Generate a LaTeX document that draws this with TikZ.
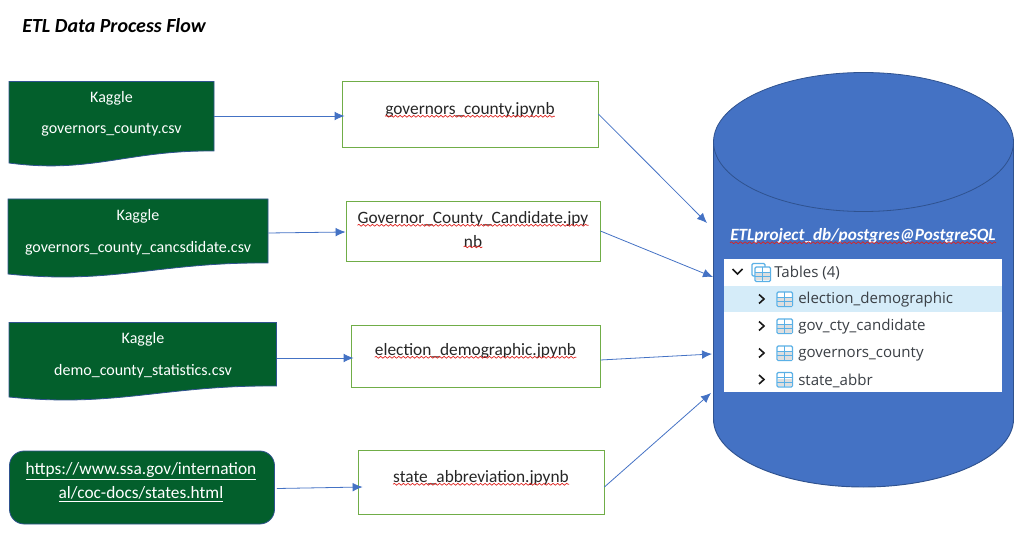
\documentclass[tikz,border=0pt]{standalone}
\usepackage{fontspec}
\setmainfont{Carlito}
\newfontfamily\robo{Open Sans}
\usetikzlibrary{calc,decorations.pathmorphing,arrows.meta}
\definecolor{dgreen}{HTML}{035F2C}
\definecolor{bblue}{HTML}{4472C4}
\definecolor{dblue}{HTML}{2F528F}
\definecolor{lgreen}{HTML}{70AD47}
\definecolor{hili}{HTML}{D5ECF9}
\definecolor{ink}{HTML}{3A3F45}
\definecolor{icon}{HTML}{5AB0E6}
\definecolor{wavy}{HTML}{E0201C}
\tikzset{
  x=0.75pt,y=-0.75pt,
  srcbox/.style={draw=none,fill=none,inner sep=0pt,text=white,font=\fontsize{12pt}{14pt}\selectfont},
  docfill/.style={fill=dgreen,draw=dblue,line width=0.6pt},
  etlbox/.style={draw=lgreen,line width=0.6pt,fill=white,inner sep=0pt},
  etltext/.style={inner sep=0pt,text=black!85,font=\fontsize{13pt}{15pt}\selectfont},
  flow/.style={draw=bblue,line width=0.6pt,-{Latex[length=7.5pt,width=6.5pt]}},
  spell/.style={draw=wavy,line width=0.5pt,decorate,decoration={snake,amplitude=0.7pt,segment length=3.4pt}},
  wordnode/.style={inner sep=0pt},
  urltext/.style={inner sep=0pt,text=white,font=\fontsize{13pt}{15pt}\selectfont},
  treetext/.style={inner sep=0pt,anchor=west,text=ink,font=\robo\fontsize{11.3pt}{13pt}\selectfont},
  chev/.style={draw=black!90,line width=1.2pt},
  tblicon/.style={draw=icon,line width=0.9pt,fill=white,rounded corners=1pt},
}
\newcommand{\docshape}[5]{% x0,x1,ytop,yright,yleft
  \path[docfill] (#1,#3) -- (#2,#3) -- (#2,#4)
    .. controls ({#2-0.42*(#2-#1)},{#4-1}) and ({#1+0.4*(#2-#1)},{#5+11}) .. (#1,#5) -- cycle;
}
\newcommand{\tbl}[2]{%
  \draw[tblicon] (#1,#2) rectangle ({#1+15.5},{#2+14.5});
  \fill[black!13] ({#1+1},{#2+6}) rectangle ({#1+14.5},{#2+13.5});
  \draw[icon,line width=0.45pt] ({#1+7.7},{#2}) -- ({#1+7.7},{#2+14.5}) ({#1},{#2+5}) -- ({#1+15.5},{#2+5}) ({#1},{#2+9.7}) -- ({#1+15.5},{#2+9.7});
}
\begin{document}
\begin{tikzpicture}
\useasboundingbox (0,0) rectangle (1024,545);
\node[anchor=west,inner sep=0pt,font=\bfseries\itshape\fontsize{15pt}{18pt}\selectfont] (title) at (22,26) {ETL Data Process Flow};

% sources
\docshape{9}{214}{81.5}{151}{163}
\node[srcbox,minimum width=205*0.75pt,minimum height=68*0.75pt] (k1) at (111.5,116) {};
\node[srcbox] (k1a) at (111.5,98) {Kaggle};
\node[srcbox] (k1b) at (111.5,130) {governors\_county.csv};

\docshape{8}{268}{199}{263}{274}
\node[srcbox,minimum width=260*0.75pt,minimum height=68*0.75pt] (k2) at (138,233) {};
\node[srcbox] (k2a) at (138,216) {Kaggle};
\node[srcbox] (k2b) at (138,248) {governors\_county\_cancsdidate.csv};

\docshape{9}{276.5}{322.5}{386}{397}
\node[srcbox,minimum width=267*0.75pt,minimum height=70*0.75pt] (k3) at (142.5,358) {};
\node[srcbox] (k3a) at (143,339) {Kaggle};
\node[srcbox] (k3b) at (143,371) {demo\_county\_statistics.csv};

\node[fill=dgreen,draw=dblue,line width=0.6pt,rounded corners=11pt,minimum width=265*0.75pt,minimum height=73*0.75pt,inner sep=0pt] (k4) at (142,487.5) {};
\node[urltext] (k4a) at (141,471) {\underline{https://www.ssa.gov/internation}};
\node[urltext] (k4b) at (141,494) {\underline{al/coc-docs/states.html}};

% etl boxes
\node[etlbox,minimum width=256*0.75pt,minimum height=66*0.75pt] (g1) at (470,114) {};
\node[etltext] (g1t) at (470,109.5) {governors\_county.jpynb};
\node[etlbox,minimum width=254*0.75pt,minimum height=60*0.75pt] (g2) at (473,231) {};
\node[etltext] (g2t) at (473,218.5) {Governor\_County\_Candidate.jpy};
\node[etltext] (g2u) at (473,241.5) {nb};
\node[etlbox,minimum width=249*0.75pt,minimum height=62*0.75pt] (g3) at (475.5,356) {};
\node[etltext] (g3t) at (475.5,350.5) {election\_demographic.jpynb};
\node[etlbox,minimum width=246*0.75pt,minimum height=64*0.75pt] (g4) at (481,482) {};
\node[etltext] (g4t) at (481,477.5) {state\_abbreviation.jpynb};
\foreach \n in {g1t,g2t,g2u,g3t,g4t}{
  \draw[spell] ($(\n.south west)+(0,-1)$) -- ($(\n.south east)+(0,-1)$);
}

% cylinder
\draw[fill=bblue,draw=dblue,line width=0.7pt] (713.5,142) -- (1013.5,142)
  -- (1013.5,419) arc[x radius=150,y radius=68,start angle=0,end angle=180] -- cycle;
\draw[fill=bblue,draw=dblue,line width=0.6pt] (863.5,142) ellipse[x radius=150,y radius=69.5];
\node[inner sep=0pt,minimum width=300*0.75pt,minimum height=414*0.75pt] (db) at (863.5,280) {};
\node[wordnode,text=white,font=\bfseries\itshape\fontsize{12.9pt}{15pt}\selectfont] (dbt) at (863,235.5) {ETLproject\_db/postgres@PostgreSQL};
\draw[spell] ($(dbt.south west)+(0,-0.5)$) -- ($(dbt.south east)+(0,-0.5)$);

% connectors
\coordinate (g1in) at ($(g1.west)+(3,2)$);
\draw[flow] (k1.east) -- (g1in);
\coordinate (g2in) at ($(g2.west)+(0,1)$);
\draw[flow] (k2.east) -- (g2in);
\coordinate (g3in) at ($(g3.west)+(3,2)$);
\draw[flow] (k3.east) ++(1,0) -- (g3in);
\coordinate (k4out) at ($(k4.east)+(2,1)$);
\coordinate (g4in) at ($(g4.west)+(5,5)$);
\draw[flow] (k4out) -- (g4in);
\coordinate (d1) at (707,223);
\coordinate (d2) at (713,277);
\coordinate (d3) at (712,354);
\coordinate (d4) at (711,393);
\draw[flow] (g1.east) -- (d1);
\draw[flow] (g2.east) -- (d2);
\draw[flow] (g3.east) ++(0,4) -- (d3);
\draw[flow] (g4.east) ++(0,5) -- (d4);

% table panel
\node[fill=white,inner sep=0pt,minimum width=278*0.75pt,minimum height=133*0.75pt] (panel) at (863,325.5) {};
\node[fill=hili,inner sep=0pt,minimum width=278*0.75pt,minimum height=26*0.75pt] (hl) at (863,299) {};
\draw[chev] (732.5,269) -- (737.5,274) -- (742.5,269);
\draw[tblicon,fill=white] (752,263.5) rectangle (765,276);
\tbl{755}{267}
\node[treetext] (t0) at (774,272.7) {Tables (4)};
\foreach \y/\t/\nm in {299/election\_demographic/t1,326/gov\_cty\_candidate/t2,353/governors\_county/t3,379.5/state\_abbr/t4}{
  \draw[chev] (759,\y-4.5) -- (764,\y) -- (759,\y+4.5);
  \tbl{777}{\y-7}
  \node[treetext] (\nm) at (798,\y+1) {\t};
}
\end{tikzpicture}
\end{document}
